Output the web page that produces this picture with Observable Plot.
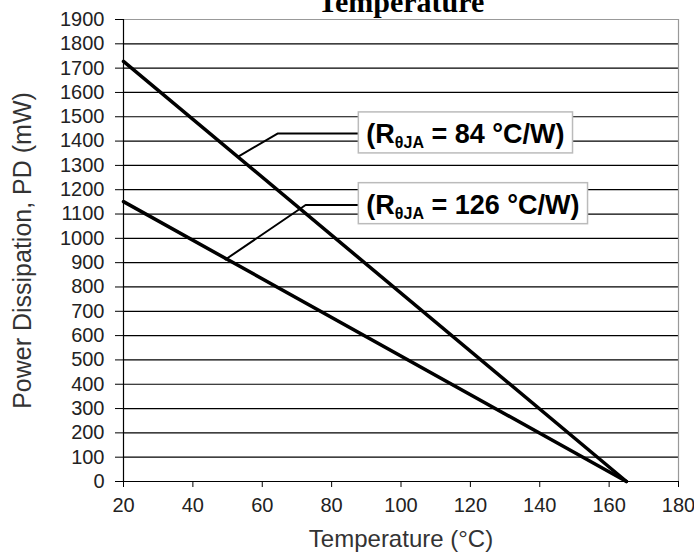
<!DOCTYPE html>
<html>
<head>
<meta charset="utf-8">
<script src="https://cdn.jsdelivr.net/npm/d3@7"></script>
<script src="https://cdn.jsdelivr.net/npm/@observablehq/plot@0.6"></script>
<style>
  html, body { margin: 0; padding: 0; background: #fff; }
  #chart svg { display: block; }
</style>
</head>
<body>
<div id="chart"></div>
<script>
// ---- data ----
const temperature = [20, 165];
const pd84 = [1728, 0];
const pd126 = [1151, 0];
const yTicks = d3.range(0, 2000, 100);
const xTicks = [20, 40, 60, 80, 100, 120, 140, 160, 180];
const gridY = d3.range(100, 1900, 100);

// callouts (data coordinates)
const calloutRth = [84, 126];
const calloutPre = ["(R", "(R"];
const calloutSub = ["θJA", "θJA"];
const calloutPost = [" = 84 °C/W)", " = 126 °C/W)"];
const calloutX = [87.7, 87.7];
const calloutY = [1428, 1137];
// leader lines: [start on curve, elbow, end at box]
const leader84T = [53.2, 64.4, 87.7];
const leader84P = [1337, 1431, 1431];
const leader126T = [49.4, 72.5, 87.7];
const leader126P = [913, 1137, 1137];

const line84 = temperature.map((t, i) => ({t, p: pd84[i]}));
const line126 = temperature.map((t, i) => ({t, p: pd126[i]}));
const lead84 = leader84T.map((t, i) => ({t, p: leader84P[i]}));
const lead126 = leader126T.map((t, i) => ({t, p: leader126P[i]}));
const callouts = calloutRth.map((r, i) => ({r, x: calloutX[i], y: calloutY[i], text: calloutPre[i] + calloutSub[i] + calloutPost[i], i}));

const chart = Plot.plot({
  width: 694,
  height: 557,
  marginLeft: 123,
  marginRight: 16,
  marginTop: 19,
  marginBottom: 76,
  x: {domain: [20, 180]},
  y: {domain: [0, 1900]},
  style: {fontFamily: "Liberation Sans, Arial, sans-serif", fontSize: "20px", color: "#222", background: "#fff"},
  marks: [
    Plot.ruleY(gridY, {stroke: "#000", strokeWidth: 1.2}),
    Plot.ruleY([1900], {stroke: "#999", strokeWidth: 1.2}),
    Plot.ruleX([180], {stroke: "#999", strokeWidth: 1.2}),
    Plot.axisY(yTicks, {tickSize: 8, tickPadding: 11, label: null, stroke: "#000", fill: "#222", fontSize: 20, tickFormat: d3.format("d")}),
    Plot.axisX(xTicks, {tickSize: 6, tickPadding: 10, label: null, stroke: "#000", fill: "#222", fontSize: 20, tickFormat: d3.format("d")}),
    Plot.ruleX([20], {stroke: "#000", strokeWidth: 1.2}),
    Plot.ruleY([0], {stroke: "#000", strokeWidth: 1.2}),
    Plot.line(lead84, {x: "t", y: "p", stroke: "#000", strokeWidth: 2}),
    Plot.line(lead126, {x: "t", y: "p", stroke: "#000", strokeWidth: 2}),
    Plot.line(line84, {x: "t", y: "p", stroke: "#000", strokeWidth: 3.5}),
    Plot.line(line126, {x: "t", y: "p", stroke: "#000", strokeWidth: 3.5}),
    Plot.text(callouts, {x: "x", y: "y", text: "text", dx: 8, textAnchor: "start", fontWeight: "bold", fontSize: 27, fill: "#000"}),
    Plot.text(["Power Dissipation, PD (mW)"], {frameAnchor: "left", dx: -101, rotate: -90, textAnchor: "middle", fontSize: 25, fill: "#333"}),
    Plot.text(["Temperature (°C)"], {frameAnchor: "bottom", dy: 65, textAnchor: "middle", fontSize: 24, fill: "#333"}),
    Plot.text(["Temperature"], {frameAnchor: "top", dy: -8, lineAnchor: "bottom", textAnchor: "middle", fontSize: 30, fontWeight: "bold", fontFamily: "Liberation Serif, Times New Roman, serif", fill: "#000"})
  ]
});

document.getElementById("chart").appendChild(chart);

// rich text + boxes for callouts
const calloutTexts = callouts.map(c => c.text);
d3.select(chart).selectAll("text").each(function() {
  const idx = calloutTexts.indexOf(this.textContent);
  if (idx < 0) return;
  const bb0 = this.getBBox();
  const cy = bb0.y + bb0.height / 2;
  const t = d3.select(this);
  t.selectAll("*").remove();
  t.text(null);
  t.append("tspan").text(calloutPre[idx]);
  t.append("tspan").attr("font-size", 16).attr("dy", 5).text(calloutSub[idx]);
  t.append("tspan").attr("dy", -5).text(calloutPost[idx]);
  const bb = this.getBBox();
  const tr = this.getAttribute("transform");
  const rect = document.createElementNS("http://www.w3.org/2000/svg", "rect");
  rect.setAttribute("x", bb.x - 8);
  rect.setAttribute("y", cy - 22);
  rect.setAttribute("width", bb.width + 16);
  rect.setAttribute("height", 41);
  rect.setAttribute("fill", "#fff");
  rect.setAttribute("stroke", "#bbb");
  rect.setAttribute("stroke-width", 1.5);
  if (tr) rect.setAttribute("transform", tr);
  this.parentNode.insertBefore(rect, this);
});
</script>
</body>
</html>
